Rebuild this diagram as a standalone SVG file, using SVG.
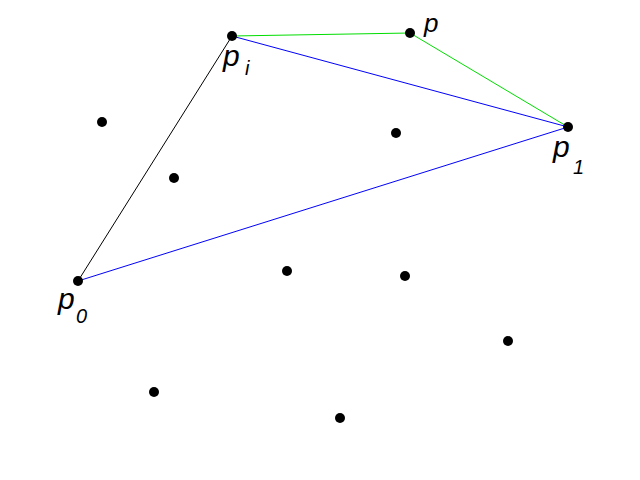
<svg xmlns="http://www.w3.org/2000/svg" width="640" height="480" viewBox="0 0 640 480">
<style>
.pt{fill:#000}
.lbl{font-family:"Liberation Sans",Arial,sans-serif;font-style:italic;fill:#000}
.big{font-size:30px}
.sub{font-size:20px}
.sm{font-size:26px}
</style>
<rect width="640" height="480" fill="#fff"/>
<g id="connectors" fill="none" stroke-width="1">
<line x1="78" y1="281" x2="232" y2="36" stroke="#000"/>
<line x1="78" y1="281" x2="568" y2="127" stroke="#0000ff"/>
<line x1="232" y1="36" x2="568" y2="127" stroke="#0000ff"/>
<line x1="232" y1="36" x2="410" y2="33" stroke="#00dd00"/>
<line x1="410" y1="33" x2="568" y2="127" stroke="#00dd00"/>
</g>
<g id="pi"><circle class="pt" cx="232" cy="36" r="5"/><text class="lbl big" x="223" y="66">p</text><text class="lbl sub" x="245" y="75">i</text></g>
<g id="p"><circle class="pt" cx="410" cy="33" r="5"/><text class="lbl sm" x="424" y="32">p</text></g>
<g id="p1"><circle class="pt" cx="568" cy="127" r="5"/><text class="lbl big" x="553" y="157">p</text><text class="lbl sub" x="573" y="174">1</text></g>
<g id="p0"><circle class="pt" cx="78" cy="281" r="5"/><text class="lbl big" x="58" y="309">p</text><text class="lbl sub" x="76" y="323">0</text></g>
<g id="q1"><circle class="pt" cx="102" cy="122" r="5"/></g>
<g id="q2"><circle class="pt" cx="174" cy="178" r="5"/></g>
<g id="q3"><circle class="pt" cx="396" cy="133" r="5"/></g>
<g id="q4"><circle class="pt" cx="287" cy="271" r="5"/></g>
<g id="q5"><circle class="pt" cx="405" cy="276" r="5"/></g>
<g id="q6"><circle class="pt" cx="508" cy="341" r="5"/></g>
<g id="q7"><circle class="pt" cx="154" cy="392" r="5"/></g>
<g id="q8"><circle class="pt" cx="340" cy="418" r="5"/></g>
</svg>
